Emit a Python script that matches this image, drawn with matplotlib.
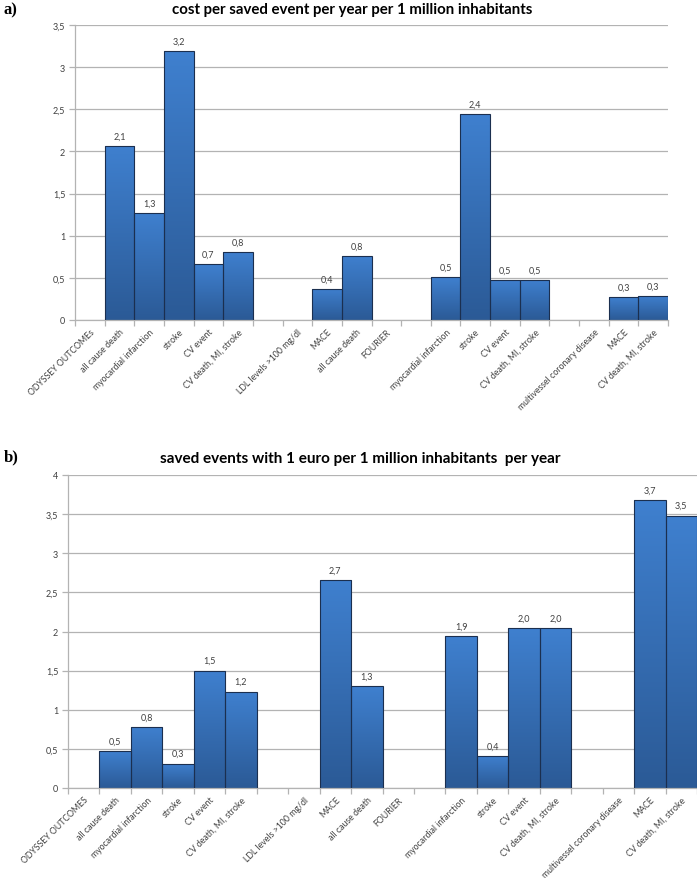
import numpy as np
import matplotlib.pyplot as plt
from matplotlib.colors import LinearSegmentedColormap
from matplotlib.ticker import FuncFormatter, FixedLocator

# 20 category slots; empty strings are blank slots
labels_a = ["ODYSSEY OUTCOMEs", "all cause death", "myocardial infarction", "stroke",
            "CV event", "CV death, MI, stroke", "", "LDL levels >100 mg/dl", "MACE",
            "all cause death", "FOURIER", "", "myocardial infarction", "stroke", "CV event",
            "CV death, MI, stroke", "", "multivessel coronary disease", "MACE",
            "CV death, MI, stroke"]
labels_b = list(labels_a)
labels_b[0] = "ODYSSEY OUTCOMES"

cost_a = [0, 2.07, 1.27, 3.19, 0.66, 0.81, 0, 0, 0.37, 0.76, 0, 0,
          0.51, 2.44, 0.48, 0.48, 0, 0, 0.27, 0.29]
cost_a_text = ["", "2,1", "1,3", "3,2", "0,7", "0,8", "", "", "0,4", "0,8", "", "",
               "0,5", "2,4", "0,5", "0,5", "", "", "0,3", "0,3"]

saved_b = [0, 0.47, 0.78, 0.31, 1.50, 1.23, 0, 0, 2.66, 1.30, 0, 0,
           1.94, 0.41, 2.04, 2.04, 0, 0, 3.68, 3.48]
saved_b_text = ["", "0,5", "0,8", "0,3", "1,5", "1,2", "", "", "2,7", "1,3", "", "",
                "1,9", "0,4", "2,0", "2,0", "", "", "3,7", "3,5"]

W, H = 697, 879
grad_cmap = LinearSegmentedColormap.from_list("bar", ["#2b5a96", "#3f80cf"])
txt_col = "#404040"
grid_col = "#b3b3b3"
small_font = "Lato"


def comma(v, pos):
    s = f"{v:g}"
    return s.replace(".", ",")


def draw_panel(ax, labels, values, texts, ymax):
    n = len(labels)
    x = np.arange(n)
    bars = ax.bar(x, values, width=1.0, facecolor="none", edgecolor="#1b2f4f",
                  linewidth=0.8, zorder=3)
    grad = np.linspace(0, 1, 256).reshape(-1, 1)
    for b, v in zip(bars, values):
        if v <= 0:
            b.set_visible(False)
            continue
        # vertical gradient inside each bar, lighter at the top
        im = ax.imshow(grad, extent=[b.get_x(), b.get_x() + 1, 0, v], origin="lower",
                       aspect="auto", cmap=grad_cmap, zorder=2)
        im.set_clip_path(b)
    for xi, v, t in zip(x, values, texts):
        if t:
            ax.text(xi, v + ymax * 0.018, t, ha="center", va="bottom",
                    fontsize=6.5, color=txt_col, family=small_font, zorder=4)
    ax.set_xlim(-0.5, n - 0.5)
    ax.set_ylim(0, ymax)
    ax.yaxis.set_major_locator(FixedLocator(np.arange(0, ymax + 0.01, 0.5)))
    ax.yaxis.set_major_formatter(FuncFormatter(comma))
    ax.grid(axis="y", color=grid_col, linewidth=0.9, zorder=0)
    ax.set_axisbelow(True)
    ax.set_xticks(x)
    ax.set_xticklabels(labels, rotation=45, ha="right", rotation_mode="anchor",
                       fontsize=6.3, color=txt_col, family=small_font)
    ax.set_xticks(np.arange(-0.5, n, 1), minor=True)
    ax.tick_params(axis="x", which="major", length=0, pad=5)
    ax.tick_params(axis="x", which="minor", length=4, color=grid_col, width=0.9)
    ax.tick_params(axis="y", length=4, color=grid_col, width=0.9, labelsize=6.5,
                   labelcolor=txt_col, pad=3)
    for lab in ax.get_yticklabels():
        lab.set_family(small_font)
    for s in ["top", "right"]:
        ax.spines[s].set_visible(False)
    for s in ["left", "bottom"]:
        ax.spines[s].set_color(grid_col)
        ax.spines[s].set_linewidth(0.9)


fig = plt.figure(figsize=(W / 100, H / 100), dpi=100)

ax_a = fig.add_axes([75 / W, 1 - 321 / H, (668 - 75) / W, (321 - 26) / H])
draw_panel(ax_a, labels_a, cost_a, cost_a_text, 3.5)

ax_b = fig.add_axes([68 / W, 1 - 789 / H, (697 - 68) / W, (789 - 476) / H])
draw_panel(ax_b, labels_b, saved_b, saved_b_text, 4.0)

fig.text(352 / W, 1 - 10 / H, "cost per saved event per year per 1 million inhabitants",
         ha="center", va="center", fontsize=10.8, fontweight="bold", family="Lato")
fig.text(360 / W, 1 - 459 / H, "saved events with 1 euro per 1 million inhabitants  per year",
         ha="center", va="center", fontsize=11, fontweight="bold", family="Lato")
fig.text(4 / W, 1 - 10 / H, "a)", ha="left", va="center", fontsize=12,
         fontweight="bold", family="Liberation Serif")
fig.text(4 / W, 1 - 457 / H, "b)", ha="left", va="center", fontsize=12,
         fontweight="bold", family="Liberation Serif")

fig.savefig("out.png", dpi=100)
